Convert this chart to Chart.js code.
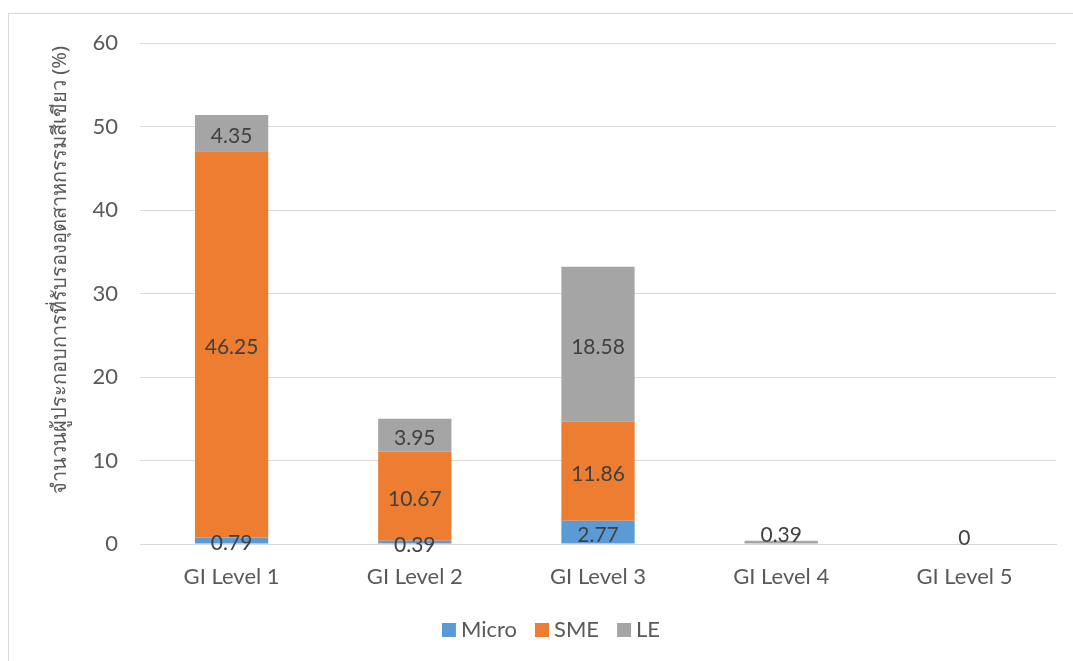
<!DOCTYPE html>
<html>
<head>
<meta charset="utf-8">
<script src="https://cdn.jsdelivr.net/npm/chart.js@4.4.1/dist/chart.umd.min.js"></script>
<style>
  html, body { margin: 0; padding: 0; background: #fff; }
  #wrap { width: 1073px; height: 661px; }
</style>
</head>
<body>
<div id="wrap"><canvas id="c" width="1073" height="661"></canvas></div>
<script>
// Share of green-industry certified firms by GI level, split by firm size
const categories = ['GI Level 1', 'GI Level 2', 'GI Level 3', 'GI Level 4', 'GI Level 5'];
const microValues = [0.79, 0.39, 2.77, null, null];
const smeValues   = [46.25, 10.67, 11.86, null, null];
const leValues    = [4.35, 3.95, 18.58, 0.39, 0];
const yAxisTitle  = 'จำนวนผู้ประกอบการที่รับรองอุตสาหกรรมสีเขียว (%)';

const FONT = 'Lato, "Noto Sans", sans-serif';

// Light frame around the chart
const framePlugin = {
  id: 'frame',
  beforeDraw(chart) {
    const ctx = chart.ctx;
    ctx.save();
    ctx.strokeStyle = '#D9D9D9';
    ctx.lineWidth = 1;
    ctx.strokeRect(8.5, 13.5, 1200, 800);
    ctx.restore();
  }
};

// Rotated y-axis title
const yTitlePlugin = {
  id: 'yTitle',
  afterDraw(chart) {
    const ctx = chart.ctx;
    ctx.save();
    ctx.translate(60, 270);
    ctx.rotate(-Math.PI / 2);
    ctx.font = '20px "Noto Sans", ' + FONT;
    ctx.fillStyle = '#595959';
    ctx.textAlign = 'center';
    ctx.textBaseline = 'middle';
    ctx.fillText(yAxisTitle, 0, 0);
    ctx.restore();
  }
};

// Compact legend row under the axis
const legendRow = {
  id: 'legendRow',
  afterDraw(chart) {
    const ctx = chart.ctx;
    ctx.save();
    ctx.font = '22px ' + FONT;
    ctx.textBaseline = 'middle';
    ctx.textAlign = 'left';
    const box = 14, gap = 5, spacing = 18;
    const items = chart.data.datasets.map(d => ({ text: d.label, color: d.backgroundColor, w: ctx.measureText(d.label).width }));
    const total = items.reduce((s, it) => s + box + gap + it.w, 0) + spacing * (items.length - 1);
    let x = 551 - total / 2;
    const y = 630;
    items.forEach(it => {
      ctx.fillStyle = it.color;
      ctx.fillRect(x, y - box / 2, box, box);
      x += box + gap;
      ctx.fillStyle = '#595959';
      ctx.fillText(it.text, x, y);
      x += it.w + spacing;
    });
    ctx.restore();
  }
};

// Value labels centred in each stacked segment
const segmentLabels = {
  id: 'segmentLabels',
  afterDatasetsDraw(chart) {
    const ctx = chart.ctx;
    ctx.save();
    ctx.font = '21px ' + FONT;
    ctx.fillStyle = '#404040';
    ctx.textAlign = 'center';
    ctx.textBaseline = 'middle';
    chart.data.datasets.forEach((ds, di) => {
      const meta = chart.getDatasetMeta(di);
      meta.data.forEach((bar, i) => {
        const v = ds.data[i];
        if (v === null || v === undefined) return;
        const top = Math.min(bar.y, bar.base);
        const h = Math.abs(bar.base - bar.y);
        let y = top + h / 2 + 3;
        // thin top segments get their label resting on the bar
        const isTop = chart.data.datasets.slice(di + 1).every(d => d.data[i] === null || d.data[i] === undefined);
        if (isTop && h < 14) y = top - 6;
        ctx.fillText(String(v), bar.x, y);
      });
    });
    ctx.restore();
  }
};

new Chart(document.getElementById('c'), {
  type: 'bar',
  data: {
    labels: categories,
    datasets: [
      { label: 'Micro', data: microValues, backgroundColor: '#5B9BD5' },
      { label: 'SME',   data: smeValues,   backgroundColor: '#ED7D31' },
      { label: 'LE',    data: leValues,    backgroundColor: '#A5A5A5' }
    ]
  },
  options: {
    responsive: false,
    animation: false,
    devicePixelRatio: 1,
    datasets: { bar: { categoryPercentage: 1.0, barPercentage: 0.4 } },
    layout: { padding: { left: 0, right: 17, top: 43, bottom: 57 } },
    plugins: {
      legend: { display: false },
      tooltip: { enabled: false }
    },
    scales: {
      x: {
        stacked: true,
        grid: { display: false, drawTicks: false },
        border: { display: true, color: '#D9D9D9' },
        ticks: { color: '#595959', padding: 20, font: { family: FONT, size: 22 } },
        afterFit(scale) { scale.height = 60; }
      },
      y: {
        stacked: true,
        min: 0, max: 60,
        ticks: { stepSize: 10, color: '#595959', padding: 22, font: { family: FONT, size: 22 } },
        grid: { color: '#D9D9D9', drawTicks: false },
        border: { display: false },
        afterFit(scale) { scale.width = 140; }
      }
    }
  },
  plugins: [framePlugin, yTitlePlugin, legendRow, segmentLabels]
});
</script>
</body>
</html>
